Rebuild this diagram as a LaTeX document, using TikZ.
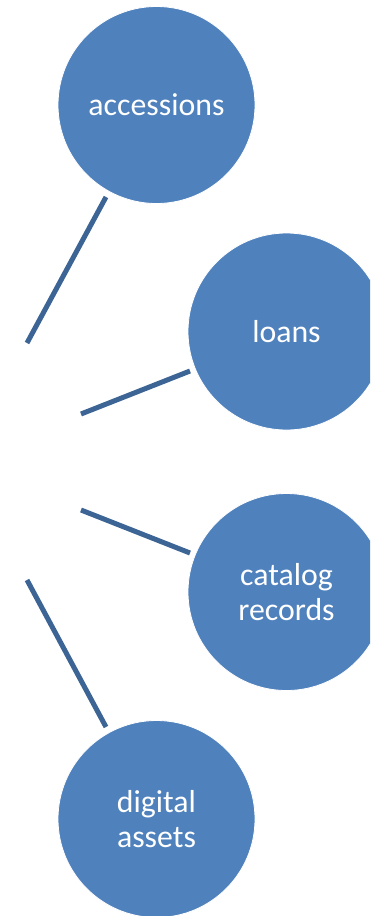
\documentclass[tikz,border=0pt]{standalone}
\usepackage{fontspec}
\setmainfont{Carlito}
\definecolor{circfill}{HTML}{4F81BD}
\definecolor{linkcol}{HTML}{3C6494}
\begin{document}
\begin{tikzpicture}[x=1pt,y=-1pt,
  bubble/.style={circle,fill=circfill,draw=white,line width=0.8pt,minimum size=197pt,inner sep=0pt,
    text=white,align=center,font=\fontsize{31.8}{35}\selectfont},
  link/.style={draw=linkcol,line width=5pt}]
\useasboundingbox (0,0) rectangle (370,916);
\clip (0,0) rectangle (370,916);
\node[bubble] (acc) at (156.5,105) {accessions};
\node[bubble] (loans) at (286.5,331.5) {loans};
\node[bubble] (cat) at (286.5,592) {catalog\\records};
\node[bubble] (dig) at (156.5,819) {digital\\assets};
\coordinate (h1) at (27,343);
\coordinate (e1) at (106,197);
\coordinate (h2) at (81,414);
\coordinate (e2) at (190,371);
\coordinate (h3) at (81,510);
\coordinate (e3) at (190,553);
\coordinate (h4) at (27,580);
\coordinate (e4) at (106,727);
\draw[link] (h1) -- (e1);
\draw[link] (h2) -- (e2);
\draw[link] (h3) -- (e3);
\draw[link] (h4) -- (e4);
\end{tikzpicture}
\end{document}
